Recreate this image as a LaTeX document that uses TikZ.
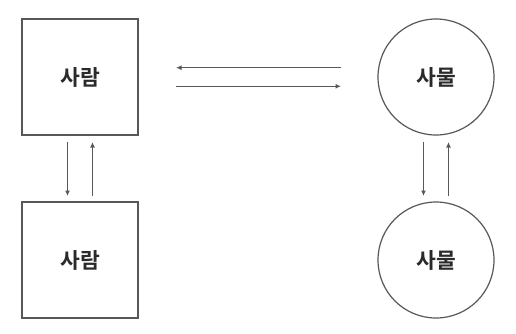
\documentclass[tikz,border=0pt]{standalone}
\usepackage{fontspec}
\newfontfamily\krfont{Noto Sans CJK KR}[BoldFont={Noto Sans CJK KR Bold}]
\usepackage{tikz}
\usetikzlibrary{arrows.meta,positioning}
\definecolor{lineGray}{HTML}{585858}
\definecolor{textGray}{HTML}{2A2A2A}
\tikzset{
  person/.style={draw=lineGray, line width=1.4pt, rectangle, minimum size=116pt, outer sep=0pt, inner sep=0pt},
  thing/.style={draw=lineGray, line width=1.2pt, circle, minimum size=116pt, outer sep=0pt, inner sep=0pt},
  label/.style={font=\krfont\bfseries\fontsize{21.5pt}{24pt}\selectfont, text=textGray},
  flow/.style={-{Latex[length=5.5pt,width=5pt]}, draw=lineGray, line width=1.1pt}
}
\begin{document}
\begin{tikzpicture}[x=1pt, y=-1pt]
\useasboundingbox (0,0) rectangle (516,333);

\node[person] (P1) at (80,77) {};
\node[label] at (P1) {사람};
\node[person, below=67pt of P1] (P2) {};
\node[label] at (P2) {사람};
\node[thing, right=240pt of P1] (T1) {};
\node[label] at (T1) {사물};
\node[thing, below=67pt of T1] (T2) {};
\node[label] at (T2) {사물};

% person <-> thing
\draw[flow] ([xshift=-37pt, yshift=9.3pt]T1.west) -- ([xshift=38pt, yshift=9.3pt]P1.east);
\draw[flow] ([xshift=38pt, yshift=-9.3pt]P1.east) -- ([xshift=-37pt, yshift=-9.3pt]T1.west);

% person <-> person
\draw[flow] ([xshift=-12.5pt, yshift=-7pt]P1.south) -- ([xshift=-12.5pt, yshift=6pt]P2.north);
\draw[flow] ([xshift=12.5pt, yshift=6pt]P2.north) -- ([xshift=12.5pt, yshift=-7pt]P1.south);

% thing <-> thing
\draw[flow] ([xshift=-12.5pt, yshift=-7pt]T1.south) -- ([xshift=-12.5pt, yshift=6pt]T2.north);
\draw[flow] ([xshift=12.5pt, yshift=6pt]T2.north) -- ([xshift=12.5pt, yshift=-7pt]T1.south);
\end{tikzpicture}
\end{document}
